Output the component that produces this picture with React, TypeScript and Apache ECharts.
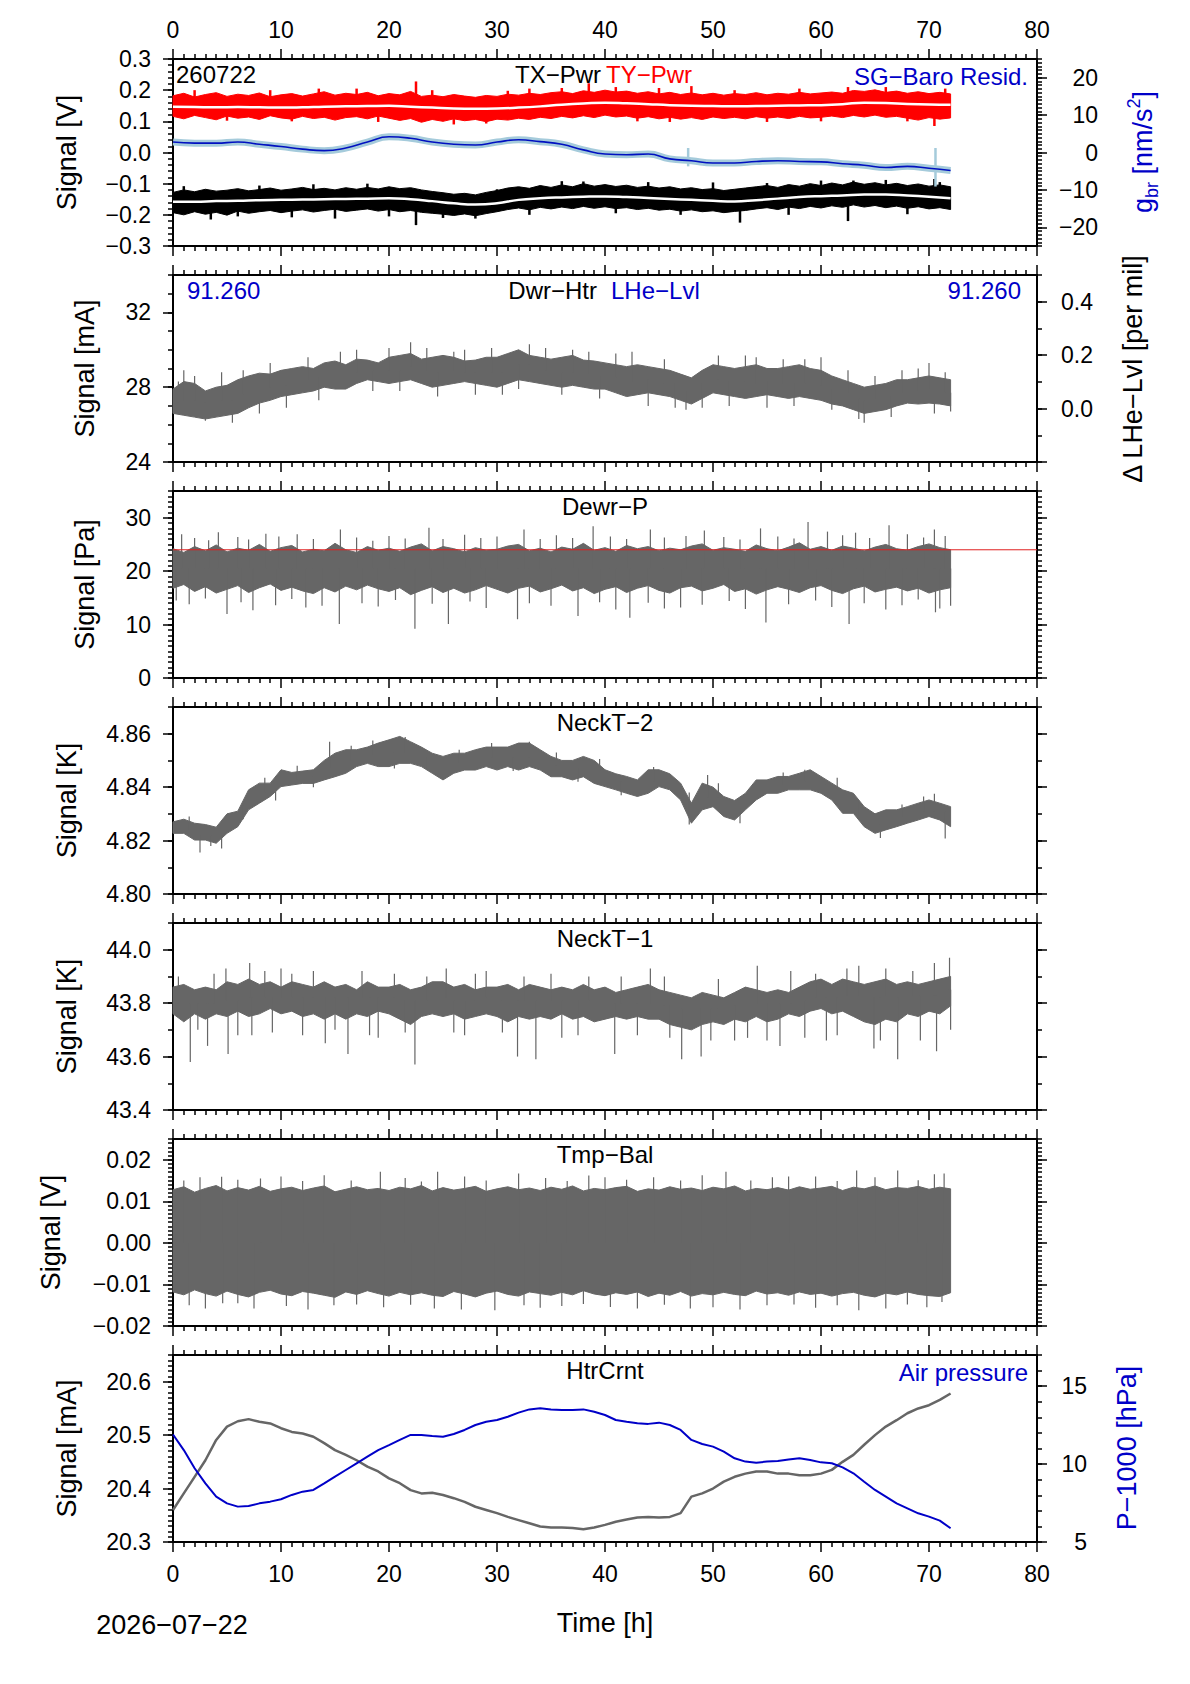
import React, { useEffect, useRef } from 'react';
import * as echarts from 'echarts';

const FONT = '"Liberation Sans", Arial, Helvetica, sans-serif';
const GRAY = '#666666';
const BLUE = '#0000c8';
const RED = '#ff0000';
const LIGHT_BLUE = '#a5cbdb';

// sample times [h]
const HOURS = Array.from({ length: 73 }, (_, i) => i);
const HOURS_2 = Array.from({ length: 37 }, (_, i) => i * 2);

// panel 1: TY-Pwr (red) envelope + smoothed, TX-Pwr (black) envelope + smoothed [V]
const tyHi = [0.182,0.190,0.178,0.186,0.192,0.180,0.187,0.183,0.191,0.179,0.185,0.189,0.181,0.188,0.195,0.184,0.190,0.186,0.193,0.182,0.189,0.185,0.196,0.180,0.184,0.179,0.186,0.181,0.177,0.183,0.180,0.187,0.184,0.190,0.186,0.192,0.195,0.189,0.198,0.193,0.200,0.194,0.197,0.190,0.195,0.188,0.193,0.186,0.191,0.185,0.190,0.184,0.189,0.186,0.192,0.185,0.190,0.187,0.193,0.188,0.191,0.194,0.190,0.199,0.196,0.201,0.193,0.197,0.190,0.195,0.189,0.193,0.188];
const tyLo = [0.116,0.108,0.119,0.112,0.105,0.117,0.110,0.114,0.106,0.118,0.111,0.107,0.116,0.109,0.113,0.104,0.112,0.115,0.108,0.117,0.110,0.103,0.109,0.097,0.106,0.100,0.108,0.102,0.106,0.099,0.107,0.104,0.110,0.106,0.113,0.109,0.116,0.111,0.118,0.112,0.120,0.114,0.117,0.110,0.115,0.108,0.113,0.107,0.112,0.106,0.114,0.109,0.113,0.108,0.115,0.110,0.114,0.109,0.116,0.111,0.113,0.117,0.112,0.119,0.114,0.120,0.113,0.116,0.110,0.104,0.112,0.107,0.111];
const tyMean = [0.147,0.146,0.145,0.146,0.145,0.144,0.145,0.147,0.148,0.149,0.150,0.147,0.144,0.141,0.140,0.141,0.144,0.148,0.153,0.157,0.160,0.158,0.155,0.152,0.150,0.149,0.148,0.149,0.150,0.151,0.152,0.155,0.160,0.159,0.156,0.154,0.153];
const tySpikes: [number, number, number][] = [[13.5,0.15,0.205],[22.5,0.15,0.228],[26,0.14,0.09],[33,0.145,0.205],[38.5,0.16,0.222],[46,0.15,0.098],[48,0.15,0.213],[62.5,0.155,0.21],[70.5,0.15,0.085],[2,0.15,0.2],[5,0.15,0.102],[9,0.145,0.2],[11,0.145,0.1],[17,0.148,0.205],[19,0.15,0.098],[24,0.144,0.2],[29,0.14,0.093],[31,0.142,0.198],[36,0.153,0.207],[41,0.16,0.21],[43,0.158,0.1],[45,0.155,0.207],[52,0.148,0.2],[55,0.15,0.098],[58,0.151,0.205],[60,0.152,0.1],[66,0.159,0.21],[68,0.156,0.1],[71.5,0.153,0.205]];

const txHi = [-0.128,-0.120,-0.126,-0.118,-0.124,-0.121,-0.116,-0.123,-0.119,-0.114,-0.121,-0.117,-0.112,-0.119,-0.115,-0.120,-0.113,-0.118,-0.112,-0.117,-0.110,-0.116,-0.113,-0.120,-0.125,-0.129,-0.134,-0.131,-0.136,-0.128,-0.122,-0.114,-0.110,-0.115,-0.106,-0.112,-0.104,-0.110,-0.100,-0.108,-0.103,-0.109,-0.105,-0.112,-0.108,-0.114,-0.110,-0.117,-0.113,-0.119,-0.116,-0.122,-0.118,-0.114,-0.110,-0.106,-0.112,-0.103,-0.108,-0.100,-0.106,-0.098,-0.104,-0.095,-0.102,-0.097,-0.104,-0.099,-0.106,-0.101,-0.108,-0.104,-0.110];
const txLo = [-0.193,-0.200,-0.190,-0.198,-0.192,-0.201,-0.188,-0.195,-0.190,-0.186,-0.193,-0.188,-0.184,-0.191,-0.186,-0.182,-0.189,-0.185,-0.181,-0.188,-0.183,-0.190,-0.186,-0.192,-0.195,-0.198,-0.202,-0.197,-0.203,-0.196,-0.190,-0.183,-0.178,-0.184,-0.176,-0.181,-0.175,-0.180,-0.173,-0.179,-0.174,-0.180,-0.177,-0.183,-0.179,-0.185,-0.182,-0.188,-0.184,-0.190,-0.187,-0.193,-0.189,-0.186,-0.181,-0.177,-0.183,-0.175,-0.180,-0.173,-0.178,-0.171,-0.176,-0.168,-0.175,-0.170,-0.177,-0.172,-0.179,-0.174,-0.181,-0.177,-0.183];
const txMean = [-0.158,-0.158,-0.156,-0.155,-0.153,-0.152,-0.151,-0.150,-0.149,-0.148,-0.147,-0.150,-0.156,-0.163,-0.167,-0.163,-0.152,-0.147,-0.144,-0.142,-0.141,-0.143,-0.146,-0.149,-0.152,-0.155,-0.157,-0.153,-0.148,-0.143,-0.140,-0.138,-0.135,-0.135,-0.138,-0.142,-0.147];
const txSpikes: [number, number, number][] = [[3.5,-0.158,-0.215],[15,-0.15,-0.212],[22.5,-0.15,-0.233],[28,-0.167,-0.212],[38,-0.142,-0.093],[50,-0.155,-0.096],[52.5,-0.157,-0.225],[62.5,-0.138,-0.22],[63,-0.136,-0.09],[70.5,-0.14,-0.085],[1,-0.158,-0.108],[6,-0.155,-0.205],[8,-0.153,-0.106],[11,-0.152,-0.208],[13,-0.151,-0.102],[18,-0.148,-0.1],[20,-0.147,-0.205],[25,-0.16,-0.21],[30,-0.163,-0.118],[33,-0.15,-0.2],[36,-0.144,-0.092],[41,-0.141,-0.195],[44,-0.146,-0.095],[47,-0.15,-0.2],[55,-0.15,-0.098],[57,-0.145,-0.2],[60,-0.14,-0.09],[66,-0.135,-0.088],[68,-0.138,-0.198],[71,-0.145,-0.095]];

// SG-Baro residual [nm/s^2]
const sgBaro = [2.8,2.5,2.5,2.8,2.2,1.6,0.9,0.5,1.2,2.8,4.2,3.8,2.8,2.2,2.0,2.8,3.4,2.9,2.2,0.7,-0.4,-0.6,-0.4,-1.7,-2.2,-2.8,-2.8,-2.4,-2.2,-2.4,-2.5,-3.0,-3.4,-4.0,-3.7,-4.2,-4.8];
const sgSpikes: [number, number, number][] = [[47.7,1.2,-3.7],[70.6,1.2,-9.1]];

// panel 2: Dwr-Htr [mA]
const dwrHi = [27.9,28.3,28.2,27.8,28.0,28.1,28.4,28.6,28.75,28.7,28.9,29.0,29.1,29.0,29.3,29.4,29.2,29.5,29.45,29.3,29.6,29.7,29.8,29.5,29.6,29.7,29.6,29.4,29.45,29.6,29.6,29.8,30.0,29.7,29.6,29.5,29.6,29.7,29.45,29.4,29.3,29.2,29.1,29.2,29.1,29.0,28.9,28.7,28.5,28.9,29.2,29.1,29.0,29.1,29.2,29.0,29.0,29.1,29.2,29.0,28.9,28.6,28.4,28.2,28.0,28.1,28.2,28.4,28.4,28.5,28.6,28.5,28.4];
const dwrLo = [26.6,26.5,26.4,26.3,26.4,26.5,26.6,26.9,27.15,27.3,27.5,27.6,27.7,27.8,28.0,27.9,27.9,28.2,28.4,28.3,28.2,28.3,28.4,28.2,28.0,28.1,28.2,28.3,28.2,28.1,28.0,28.2,28.4,28.3,28.2,28.1,28.0,28.1,28.0,27.9,27.9,27.7,27.5,27.6,27.7,27.6,27.5,27.3,27.1,27.4,27.7,27.6,27.5,27.4,27.5,27.6,27.5,27.4,27.5,27.4,27.3,27.1,27.0,26.8,26.6,26.7,26.8,27.0,27.15,27.1,27.15,27.1,27.0];
const dwrSpikes: [number, number, number][] = [[1,27.3,28.9],[3,27.2,26.2],[4.5,27.3,28.8],[8,27.9,26.6],[15.5,28.6,29.9],[22,29.1,30.4],[26,28.9,29.9],[28,28.8,27.6],[33,29.2,30.3],[37,28.8,30.0],[42.5,28.3,29.9],[44,28.4,27.0],[49,28.2,26.9],[53,28.3,29.7],[55,28.3,26.9],[60,28.1,29.6],[64,27.3,26.1],[70,27.9,29.3],[70.5,27.9,26.6],[0.5,27.2,28.3],[2,27.3,28.6],[5.5,27.3,26.1],[6.5,27.6,28.9],[9,28.0,29.3],[10.5,28.1,26.9],[12.5,28.4,29.6],[13.5,28.5,27.3],[17,28.8,30.0],[18.5,28.9,27.8],[20,28.9,30.1],[21,28.9,27.8],[23.5,28.9,30.1],[24.5,28.8,27.5],[27,28.8,30.0],[29.5,28.8,30.1],[30.5,28.8,27.6],[32,29.2,27.9],[34.5,28.9,30.1],[36,28.8,27.6],[38.5,28.7,29.9],[39.5,28.6,27.4],[41,28.5,29.8],[45.5,28.2,29.5],[46.5,28.2,26.9],[47.5,27.8,26.8],[50.5,28.4,29.7],[51.5,28.3,27.0],[54,28.2,29.6],[56.5,28.2,29.5],[57.5,28.2,27.0],[58.5,28.2,29.5],[61,27.9,26.8],[62.5,27.7,28.9],[63.5,27.4,26.3],[65,27.4,28.6],[66.5,27.5,26.4],[67.5,27.7,28.9],[69,27.8,29.0],[71.5,27.7,28.8],[72,27.7,26.7]];

// panel 3: Dewr-P [Pa]
const dewrHi = [24.2,23.5,24.6,23.8,24.9,23.6,24.3,23.9,25.0,23.7,24.4,24.8,23.6,24.1,23.8,25.2,24.0,23.5,24.6,23.9,24.3,23.7,24.5,25.1,23.8,24.6,24.2,23.6,24.4,23.9,24.1,24.7,25.0,23.8,24.3,23.6,24.5,24.1,25.2,23.9,24.4,23.7,24.8,24.2,24.6,23.8,24.3,24.0,24.7,25.1,23.9,24.4,24.1,23.7,24.9,24.2,23.8,24.5,25.3,24.1,24.6,23.9,24.7,24.3,23.8,24.5,25.0,24.2,23.9,24.6,25.1,24.4,24.0];
const dewrLo = [16.8,17.5,16.2,17.1,15.9,16.6,17.3,16.0,16.9,17.6,16.4,17.0,16.3,15.8,16.9,16.1,17.2,16.5,17.4,16.7,16.2,16.9,15.6,16.4,17.1,16.0,16.8,15.9,16.5,17.3,16.6,15.9,16.8,17.2,16.1,16.7,17.4,16.3,16.9,15.8,16.6,17.1,16.0,16.8,17.3,16.4,15.9,16.9,17.2,16.3,16.8,17.5,16.2,16.7,15.7,16.5,17.1,16.6,16.0,16.9,17.3,16.4,15.8,16.7,17.2,16.1,16.6,17.0,16.3,16.8,15.9,16.5,16.9];
const dewrSpikes: [number, number, number][] = [[0.8,20.5,26.9],[4.2,20.5,27.3],[8.6,20.5,27.0],[11.5,20.5,26.9],[15.5,20.5,27.8],[23.7,20.5,28.1],[32.5,20.5,27.8],[38.9,20.5,28.4],[44.2,20.5,27.8],[49.2,20.5,27.6],[54.4,20.5,28.0],[58.8,20.5,29.2],[60.6,20.5,27.4],[63.2,20.5,27.2],[66.3,20.5,28.6],[70.5,20.5,27.8],[5,20.5,12.0],[7.4,20.5,12.7],[13.8,20.5,13.5],[15.4,20.5,10.1],[22.4,20.5,9.2],[25.5,20.5,10.1],[31.9,20.5,11.0],[37.5,20.5,11.6],[42.3,20.5,11.3],[47,20.5,13.2],[54.9,20.5,10.4],[62.6,20.5,10.1],[66,20.5,12.8],[70.6,20.5,12.3],[72,20.5,13.5],
  [2,20.5,26.2],[3.3,20.5,25.8],[6,20.5,26.4],[7,20.5,25.9],[9.8,20.5,26.5],[13,20.5,26.0],[17,20.5,26.3],[18.5,20.5,25.7],[20,20.5,26.6],[21.5,20.5,26.1],[25,20.5,26.0],[27,20.5,26.8],[28.5,20.5,26.2],[30,20.5,26.5],[34,20.5,26.0],[35.5,20.5,26.7],[37,20.5,26.2],[40.5,20.5,26.5],[42,20.5,26.0],[45.5,20.5,26.3],[47.5,20.5,26.6],[51,20.5,26.4],[52.5,20.5,25.9],[56,20.5,26.5],[57.5,20.5,26.1],[62,20.5,26.7],[64.5,20.5,26.2],[68,20.5,26.9],[69.5,20.5,26.3],[71.5,20.5,26.6],
  [0.3,20.5,14.5],[1.5,20.5,13.8],[3,20.5,14.9],[6.3,20.5,14.2],[9.5,20.5,13.6],[11,20.5,14.8],[12.3,20.5,13.2],[17.5,20.5,14.0],[19,20.5,13.4],[20.6,20.5,14.6],[24,20.5,13.9],[27.5,20.5,14.3],[29,20.5,13.1],[33,20.5,14.0],[35,20.5,13.5],[39.5,20.5,14.2],[41,20.5,12.8],[44,20.5,14.1],[45.5,20.5,13.0],[49,20.5,13.7],[51.5,20.5,14.4],[53,20.5,12.9],[57,20.5,13.8],[59.5,20.5,14.5],[61,20.5,13.3],[64,20.5,14.0],[67.5,20.5,13.6],[69,20.5,14.7],[71,20.5,13.0]];
const dewrLimit = [24.0, 24.0];
const dewrLimitTimes = [0, 80];

// panel 4: NeckT-2 [K]
const neck2Hi = [4.827,4.828,4.8265,4.826,4.825,4.830,4.831,4.839,4.8415,4.8415,4.8465,4.8455,4.846,4.8465,4.850,4.8527,4.854,4.854,4.855,4.8565,4.8577,4.859,4.857,4.855,4.8527,4.8515,4.8527,4.8527,4.854,4.855,4.855,4.855,4.8565,4.8565,4.854,4.8515,4.850,4.850,4.8515,4.850,4.8465,4.845,4.844,4.8427,4.8465,4.8465,4.845,4.8415,4.834,4.8415,4.840,4.8365,4.835,4.8377,4.8427,4.8427,4.844,4.844,4.8452,4.8465,4.844,4.8415,4.839,4.8377,4.8327,4.830,4.8315,4.8315,4.8327,4.834,4.8352,4.834,4.8327];
const neck2Lo = [4.8227,4.8227,4.8202,4.8202,4.819,4.8227,4.8252,4.8315,4.834,4.8365,4.8402,4.8408,4.8414,4.8414,4.8427,4.8439,4.8452,4.8477,4.8489,4.8477,4.8477,4.8489,4.8489,4.8477,4.8452,4.8427,4.8452,4.8464,4.8464,4.8477,4.8464,4.8477,4.8464,4.8477,4.8464,4.8439,4.8439,4.8427,4.8439,4.8414,4.8402,4.839,4.8377,4.8365,4.8377,4.8402,4.839,4.8352,4.8265,4.8315,4.8327,4.829,4.8277,4.8315,4.8352,4.8377,4.8377,4.839,4.839,4.839,4.8377,4.8352,4.8302,4.8302,4.8252,4.8227,4.824,4.8252,4.8265,4.8277,4.829,4.8277,4.8252];
const neck2Spikes: [number, number, number][] = [[2.5,4.822,4.8155],[4.5,4.822,4.817],[14.5,4.847,4.857],[21.5,4.853,4.8588],[33,4.851,4.857],[47.8,4.838,4.826],[49.5,4.836,4.8445],[58.5,4.842,4.8465],[65.5,4.826,4.821],[70.5,4.831,4.8375],[71.5,4.831,4.8208],
  [1.5,4.824,4.829],[3.5,4.822,4.818],[6.5,4.828,4.833],[8.5,4.838,4.8435],[9.5,4.839,4.835],[11.5,4.843,4.848],[13,4.844,4.840],[16.5,4.85,4.8555],[18.5,4.852,4.8575],[20.5,4.853,4.847],[23.5,4.851,4.8465],[26.5,4.849,4.854],[29.5,4.851,4.8565],[31.5,4.851,4.846],[35.5,4.848,4.853],[37.5,4.847,4.842],[39.5,4.846,4.8505],[41.5,4.842,4.837],[44.5,4.842,4.8475],[50.5,4.836,4.8415],[52.5,4.832,4.8265],[56.5,4.841,4.8455],[60.5,4.841,4.8365],[61.5,4.839,4.8435],[63.5,4.835,4.8295],[67.5,4.829,4.8335],[69.5,4.831,4.8365]];

// panel 5: NeckT-1 [K]
const neck1Hi = [43.86,43.87,43.85,43.86,43.85,43.88,43.87,43.89,43.87,43.88,43.86,43.88,43.87,43.86,43.88,43.86,43.87,43.85,43.88,43.86,43.86,43.87,43.85,43.86,43.88,43.88,43.86,43.87,43.85,43.86,43.86,43.87,43.85,43.87,43.86,43.85,43.86,43.85,43.87,43.85,43.86,43.84,43.85,43.86,43.87,43.85,43.84,43.83,43.82,43.84,43.83,43.82,43.84,43.86,43.85,43.84,43.85,43.84,43.86,43.88,43.89,43.87,43.89,43.88,43.87,43.88,43.89,43.87,43.88,43.87,43.88,43.89,43.90];
const neck1Lo = [43.76,43.73,43.76,43.74,43.76,43.75,43.77,43.75,43.76,43.78,43.76,43.77,43.75,43.76,43.74,43.76,43.74,43.76,43.75,43.77,43.76,43.74,43.72,43.75,43.76,43.75,43.76,43.74,43.75,43.76,43.75,43.73,43.75,43.74,43.75,43.74,43.76,43.74,43.75,43.73,43.74,43.75,43.74,43.75,43.74,43.74,43.72,43.71,43.70,43.72,43.73,43.72,43.74,43.73,43.75,43.73,43.74,43.76,43.75,43.77,43.78,43.76,43.77,43.75,43.73,43.72,43.74,43.73,43.76,43.75,43.77,43.76,43.79];
const neck1Spikes: [number, number, number][] = [[1.6,43.8,43.58],[3.2,43.8,43.64],[5.1,43.81,43.61],[7.3,43.82,43.68],[12,43.82,43.68],[14.1,43.82,43.65],[16.2,43.82,43.61],[19,43.82,43.67],[22.4,43.81,43.57],[27,43.81,43.68],[31.9,43.81,43.60],[33.6,43.81,43.59],[36,43.81,43.67],[40.9,43.8,43.61],[47.1,43.78,43.59],[48.9,43.78,43.6],[52,43.79,43.66],[56.2,43.8,43.64],[60.5,43.82,43.66],[64.9,43.82,43.63],[67.1,43.82,43.59],[70.7,43.83,43.62],[4.9,43.81,43.93],[7.1,43.82,43.95],[10,43.82,43.93],[25.3,43.82,43.93],[29,43.82,43.92],[44.2,43.8,43.93],[54.1,43.8,43.94],[57.2,43.8,43.92],[62.4,43.83,43.93],[66,43.83,43.93],[70.5,43.83,43.95],[71.9,43.85,43.97],
  [0.5,43.8,43.9],[2.3,43.8,43.7],[3.8,43.8,43.91],[6,43.81,43.68],[8.5,43.82,43.92],[9.2,43.82,43.69],[11,43.82,43.91],[13,43.82,43.92],[15,43.82,43.7],[17.5,43.82,43.92],[18.2,43.82,43.68],[20.5,43.82,43.91],[21.5,43.81,43.69],[23.5,43.81,43.9],[26,43.81,43.69],[28,43.81,43.91],[30.5,43.81,43.69],[32.5,43.81,43.9],[35,43.81,43.91],[37.5,43.81,43.68],[38.5,43.81,43.9],[41.5,43.8,43.9],[43,43.8,43.68],[45.5,43.79,43.9],[46,43.79,43.67],[49.8,43.78,43.66],[50.5,43.78,43.89],[53.2,43.79,43.67],[55,43.8,43.66],[58.5,43.81,43.67],[59.5,43.82,43.91],[61.5,43.82,43.68],[63.5,43.83,43.94],[65.5,43.82,43.66],[68.5,43.83,43.92],[69.2,43.83,43.66],[72,43.85,43.7]];

// panel 6: Tmp-Bal [V]
const tmpHi = [0.0128,0.0135,0.0122,0.0131,0.0138,0.0125,0.0133,0.0127,0.0136,0.0124,0.0130,0.0134,0.0126,0.0132,0.0137,0.0123,0.0129,0.0135,0.0128,0.0131,0.0126,0.0134,0.0130,0.0138,0.0125,0.0133,0.0127,0.0131,0.0136,0.0124,0.0130,0.0135,0.0128,0.0132,0.0126,0.0134,0.0129,0.0137,0.0125,0.0131,0.0128,0.0133,0.0136,0.0124,0.0130,0.0127,0.0135,0.0129,0.0132,0.0126,0.0134,0.0130,0.0137,0.0125,0.0131,0.0128,0.0133,0.0127,0.0135,0.0129,0.0132,0.0136,0.0126,0.0134,0.0130,0.0137,0.0128,0.0133,0.0131,0.0136,0.0129,0.0134,0.0130];
const tmpLo = [-0.0118,-0.0125,-0.0113,-0.0122,-0.0128,-0.0116,-0.0124,-0.0130,-0.0119,-0.0114,-0.0123,-0.0127,-0.0117,-0.0121,-0.0126,-0.0131,-0.0118,-0.0124,-0.0115,-0.0122,-0.0128,-0.0119,-0.0125,-0.0120,-0.0126,-0.0129,-0.0117,-0.0123,-0.0130,-0.0121,-0.0116,-0.0124,-0.0128,-0.0118,-0.0122,-0.0126,-0.0119,-0.0125,-0.0115,-0.0123,-0.0127,-0.0120,-0.0124,-0.0118,-0.0129,-0.0121,-0.0126,-0.0117,-0.0128,-0.0122,-0.0125,-0.0119,-0.0124,-0.0127,-0.0116,-0.0123,-0.0120,-0.0126,-0.0118,-0.0124,-0.0121,-0.0128,-0.0122,-0.0119,-0.0126,-0.0130,-0.0121,-0.0125,-0.0118,-0.0124,-0.0127,-0.0129,-0.0120];
const tmpSpikes: [number, number, number][] = [[4.5,0,0.0159],[8.1,0,0.0155],[19.2,0,0.0171],[24.5,0,0.0171],[32,0,0.0167],[40,0,0.0158],[51.2,0,0.0171],[57,0,0.016],[63.3,0,0.0174],[67.1,0,0.0174],[71.4,0,0.0167],[4.6,0,-0.0145],[7.5,0,-0.0158],[14.9,0,-0.015],[26.7,0,-0.016],[29.8,0,-0.0162],[36,0,-0.0152],[47.9,0,-0.0158],[55,0,-0.015],[63.5,0,-0.0162],[71.2,0,-0.0142],
  [1,0,0.0150],[2.5,0,0.0158],[6,0,0.0152],[10,0,0.0160],[12,0,0.0149],[14,0,0.0163],[16.5,0,0.0150],[21.5,0,0.0156],[23,0,0.0148],[27,0,0.0160],[29,0,0.0150],[34.5,0,0.0156],[36.5,0,0.0149],[38.5,0,0.0162],[42,0,0.0152],[44.5,0,0.0158],[47,0,0.0150],[49,0,0.0163],[53.5,0,0.0150],[55.5,0,0.0158],[59.5,0,0.0160],[61.5,0,0.0149],[65,0,0.0158],[69,0,0.0151],[70.5,0,0.0165],
  [1.5,0,-0.0150],[3,0,-0.0158],[6,0,-0.0145],[10.5,0,-0.0152],[12.5,0,-0.0160],[17,0,-0.0148],[19.5,0,-0.0155],[22,0,-0.0149],[24.2,0,-0.0158],[32.5,0,-0.0150],[34,0,-0.0156],[38,0,-0.0147],[40.5,0,-0.0154],[43,0,-0.0158],[45.5,0,-0.0149],[50,0,-0.0155],[52.5,0,-0.0160],[57.5,0,-0.0148],[59.5,0,-0.0156],[61.5,0,-0.0150],[66,0,-0.0158],[68,0,-0.0148],[69.8,0,-0.0155]];

// panel 7: HtrCrnt [mA] and air pressure P-1000 [hPa]
const htrCrnt = [20.36,20.391,20.422,20.453,20.491,20.516,20.526,20.53,20.525,20.522,20.513,20.506,20.503,20.497,20.485,20.472,20.463,20.453,20.441,20.432,20.419,20.41,20.397,20.391,20.392,20.388,20.382,20.375,20.366,20.36,20.354,20.347,20.341,20.335,20.329,20.327,20.327,20.326,20.324,20.327,20.332,20.338,20.342,20.346,20.347,20.346,20.347,20.354,20.385,20.391,20.4,20.413,20.422,20.428,20.432,20.432,20.428,20.428,20.425,20.425,20.428,20.435,20.45,20.463,20.482,20.5,20.516,20.528,20.541,20.55,20.556,20.566,20.578];
const airPressure = [11.9,10.9,9.73,8.76,7.91,7.48,7.27,7.31,7.48,7.59,7.74,8.02,8.23,8.34,8.76,9.19,9.62,10.05,10.48,10.9,11.22,11.55,11.87,11.87,11.8,11.76,11.93,12.19,12.51,12.72,12.83,13.04,13.3,13.51,13.58,13.51,13.47,13.47,13.51,13.36,13.15,12.83,12.72,12.62,12.58,12.66,12.51,12.19,11.55,11.29,11.12,10.8,10.37,10.16,10.09,10.16,10.2,10.3,10.37,10.26,10.11,10.05,9.79,9.41,8.87,8.34,7.91,7.48,7.16,6.84,6.63,6.37,5.88];

// left axes per panel (tick labels, minor tick step, axis title)
const LEFT_AXES = [
  { min: -0.3, max: 0.3, step: 0.1, ticks: [-0.3, -0.2, -0.1, 0, 0.1, 0.2, 0.3], minor: 0.02, digits: 1, name: 'Signal [V]', gap: 93 },
  { min: 24, max: 34, step: 4, ticks: [24, 28, 32], minor: 1, digits: 0, name: 'Signal [mA]', gap: 75 },
  { min: 0, max: 35, step: 10, ticks: [0, 10, 20, 30], minor: 1, digits: 0, name: 'Signal [Pa]', gap: 75 },
  { min: 4.8, max: 4.87, step: 0.02, ticks: [4.8, 4.82, 4.84, 4.86], minor: 0.01, digits: 2, name: 'Signal [K]', gap: 93 },
  { min: 43.4, max: 44.1, step: 0.2, ticks: [43.4, 43.6, 43.8, 44.0], minor: 0.1, digits: 1, name: 'Signal [K]', gap: 93 },
  { min: -0.02, max: 0.025, step: 0.01, ticks: [-0.02, -0.01, 0, 0.01, 0.02], minor: 0.001, digits: 2, name: 'Signal [V]', gap: 109 },
  { min: 20.3, max: 20.65, step: 0.1, ticks: [20.3, 20.4, 20.5, 20.6], minor: 0.01, digits: 1, name: 'Signal [mA]', gap: 93 },
];

// right axes with their own scale (others mirror the left one)
const RIGHT_AXES: Record<number, { min: number; max: number; ticks: number[]; labels: number[]; minor: number; digits: number; margin: number }> = {
  0: { min: -25, max: 25, ticks: [-20, -10, 0, 10, 20], labels: [-20, -10, 0, 10, 20], minor: 1, digits: 0, margin: 61 },
  1: { min: -0.2, max: 0.5, ticks: [-0.2, 0, 0.2, 0.4], labels: [0, 0.2, 0.4], minor: 0.1, digits: 1, margin: 56 },
  6: { min: 5, max: 17, ticks: [5, 10, 15], labels: [5, 10, 15], minor: 1, digits: 0, margin: 50 },
};

const PANEL_TOP = 59;
const PANEL_STEP = 216;
const PANEL_H = 187;
const PLOT_LEFT = 173;
const PLOT_W = 864;
const MID_X = PLOT_LEFT + PLOT_W / 2;

const fmt = (digits: number) => (v: number) => {
  const n = Math.abs(v) < 1e-9 ? 0 : v;
  return n.toFixed(digits).replace('-', '\u2212');
};

const labelStyle = { color: '#000', fontSize: 23, fontFamily: FONT };
const lineBlack = { color: '#000', width: 2 };
const tickBlack = { color: '#000', width: 1.5 };

const band = (g: number, yIdx: number, hi: number[], lo: number[], color: string, z = 2) => ({
  type: 'custom',
  xAxisIndex: 2 * g,
  yAxisIndex: yIdx,
  silent: true,
  z,
  data: [[0, hi[0]]],
  renderItem: (_p: any, api: any) => {
    const pts: number[][] = [];
    hi.forEach((v, i) => pts.push(api.coord([HOURS[i], v])));
    for (let i = lo.length - 1; i >= 0; i--) pts.push(api.coord([HOURS[i], lo[i]]));
    return {
      type: 'polygon',
      shape: { points: pts },
      style: { fill: color, stroke: color, lineWidth: 1, lineJoin: 'bevel' },
    };
  },
});

const spikes = (g: number, yIdx: number, data: [number, number, number][], color: string, width = 1.2, z = 3) => ({
  type: 'custom',
  xAxisIndex: 2 * g,
  yAxisIndex: yIdx,
  silent: true,
  z,
  data,
  encode: { x: 0, y: [1, 2] },
  renderItem: (_p: any, api: any) => {
    const a = api.coord([api.value(0), api.value(1)]);
    const b = api.coord([api.value(0), api.value(2)]);
    return {
      type: 'line',
      shape: { x1: a[0], y1: a[1], x2: b[0], y2: b[1] },
      style: { stroke: color, lineWidth: width },
    };
  },
});

const line = (g: number, yIdx: number, times: number[], values: number[], color: string, width: number, smooth = false, z = 4) => ({
  type: 'line',
  xAxisIndex: 2 * g,
  yAxisIndex: yIdx,
  data: times.map((t, i) => [t, values[i]]),
  showSymbol: false,
  silent: true,
  smooth,
  z,
  lineStyle: { color, width },
});

const text = (x: number, y: number, t: string, color = '#000', align = 'center', size = 24) => ({
  type: 'text',
  x,
  y,
  silent: true,
  style: {
    text: t,
    fill: color,
    fontSize: size,
    fontFamily: FONT,
    align,
    verticalAlign: 'middle',
    textAlign: align,
    textVerticalAlign: 'middle',
  },
});

const vText = (x: number, y: number, t: string, color = '#000', rich?: any) => ({
  type: 'text',
  x,
  y,
  rotation: Math.PI / 2,
  silent: true,
  style: {
    text: t,
    fill: color,
    fontSize: 27,
    fontFamily: FONT,
    align: 'center',
    verticalAlign: 'middle',
    textAlign: 'center',
    textVerticalAlign: 'middle',
    rich,
  },
});

const App: React.FC = () => {
  const chartRef = useRef<HTMLDivElement>(null);

  useEffect(() => {
    if (!chartRef.current) return;
    document.body.style.margin = '0';
    const chart = echarts.init(chartRef.current, undefined, { renderer: 'svg' });

    const grids: any[] = [];
    const xAxes: any[] = [];
    const yAxes: any[] = [];

    LEFT_AXES.forEach((ax, g) => {
      grids.push({ left: PLOT_LEFT, top: PANEL_TOP + g * PANEL_STEP, width: PLOT_W, height: PANEL_H, containLabel: false, outerBoundsMode: 'none' });
      ['bottom', 'top'].forEach((pos) => {
        const show = (pos === 'top' && g === 0) || (pos === 'bottom' && g === LEFT_AXES.length - 1);
        xAxes.push({
          type: 'value', gridIndex: g, position: pos, min: 0, max: 80, interval: 10,
          axisLine: { show: true, onZero: false, lineStyle: lineBlack },
          axisTick: { show: true, inside: false, length: 10, lineStyle: tickBlack },
          minorTick: { show: true, splitNumber: 10, length: 5, lineStyle: tickBlack },
          axisLabel: { show, margin: pos === 'top' ? 18 : 20, ...labelStyle },
          splitLine: { show: false },
          minorSplitLine: { show: false },
        });
      });

      const right = RIGHT_AXES[g];
      const mkMajor = (pos: string, cfg: any, labels: number[] | null, margin: number, name?: string, gap?: number) => ({
        type: 'value', gridIndex: g, position: pos, min: cfg.min, max: cfg.max,
        ...(cfg.step ? { interval: cfg.step } : { splitNumber: 5 }),
        axisLine: { show: true, onZero: false, lineStyle: lineBlack },
        axisTick: { show: true, inside: false, length: 10, lineStyle: tickBlack, customValues: cfg.ticks },
        axisLabel: labels
          ? { show: true, customValues: labels, formatter: fmt(cfg.digits), margin, align: pos === 'right' ? 'right' : undefined, ...labelStyle }
          : { show: false },
        minorTick: { show: false },
        splitLine: { show: false },
        name: name || '',
        nameLocation: 'middle',
        nameRotate: 90,
        nameGap: gap || 0,
        nameTextStyle: { color: '#000', fontSize: 27, fontFamily: FONT },
      });
      const mkMinor = (pos: string, cfg: any) => ({
        type: 'value', gridIndex: g, position: pos, min: cfg.min, max: cfg.max, interval: cfg.minor,
        axisLine: { show: false, onZero: false },
        axisTick: { show: true, inside: false, length: 5, lineStyle: tickBlack },
        axisLabel: { show: false },
        splitLine: { show: false },
      });

      yAxes.push(mkMajor('left', ax, ax.ticks, 22, ax.name, ax.gap));
      yAxes.push(mkMinor('left', ax));
      if (right) {
        yAxes.push(mkMajor('right', right, right.labels, right.margin));
        yAxes.push(mkMinor('right', right));
      } else {
        yAxes.push(mkMajor('right', ax, null, 0));
        yAxes.push(mkMinor('right', ax));
      }
    });

    const L = (g: number) => 4 * g;
    const R = (g: number) => 4 * g + 2;

    const series: any[] = [
      // panel 1
      band(0, L(0), tyHi, tyLo, RED),
      spikes(0, L(0), tySpikes, RED, 2.5),
      line(0, L(0), HOURS_2, tyMean, '#ffffff', 2.5, true),
      band(0, L(0), txHi, txLo, '#000000'),
      spikes(0, L(0), txSpikes, '#000000', 2.5),
      line(0, L(0), HOURS_2, txMean, '#ffffff', 2.5, true),
      line(0, R(0), HOURS_2, sgBaro, LIGHT_BLUE, 7, true, 3),
      spikes(0, R(0), sgSpikes, LIGHT_BLUE, 2.5, 3),
      line(0, R(0), HOURS_2, sgBaro, '#0010c0', 1.6, true, 5),
      // panel 2
      band(1, L(1), dwrHi, dwrLo, GRAY),
      spikes(1, L(1), dwrSpikes, GRAY),
      // panel 3
      band(2, L(2), dewrHi, dewrLo, GRAY),
      spikes(2, L(2), dewrSpikes, GRAY),
      line(2, L(2), dewrLimitTimes, dewrLimit, '#e02020', 1, false, 5),
      // panel 4
      band(3, L(3), neck2Hi, neck2Lo, GRAY),
      spikes(3, L(3), neck2Spikes, GRAY),
      // panel 5
      band(4, L(4), neck1Hi, neck1Lo, GRAY),
      spikes(4, L(4), neck1Spikes, GRAY),
      // panel 6
      band(5, L(5), tmpHi, tmpLo, GRAY),
      spikes(5, L(5), tmpSpikes, GRAY),
      // panel 7
      line(6, L(6), HOURS, htrCrnt, GRAY, 2.5),
      line(6, R(6), HOURS, airPressure, BLUE, 2),
    ];

    const top = (g: number) => PANEL_TOP + g * PANEL_STEP;
    const graphics: any[] = [
      text(176, top(0) + 15, '260722', '#000', 'left'),
      text(MID_X - 4, top(0) + 15, 'TX\u2212Pwr', '#000', 'right'),
      text(MID_X + 1, top(0) + 15, 'TY\u2212Pwr', RED, 'left'),
      text(1028, top(0) + 17, 'SG\u2212Baro Resid.', BLUE, 'right'),
      text(187, top(1) + 15, '91.260', BLUE, 'left'),
      text(MID_X - 8, top(1) + 15, 'Dwr\u2212Htr', '#000', 'right'),
      text(MID_X + 6, top(1) + 15, 'LHe\u2212Lvl', BLUE, 'left'),
      text(1021, top(1) + 15, '91.260', BLUE, 'right'),
      text(MID_X, top(2) + 15, 'Dewr\u2212P'),
      text(MID_X, top(3) + 15, 'NeckT\u22122'),
      text(MID_X, top(4) + 15, 'NeckT\u22121'),
      text(MID_X, top(5) + 15, 'Tmp\u2212Bal'),
      text(MID_X, top(6) + 15, 'HtrCrnt'),
      text(1028, top(6) + 17, 'Air pressure', BLUE, 'right'),
      text(MID_X, 1623, 'Time [h]', '#000', 'center', 27),
      text(172, 1625, '2026\u221207\u221222', '#000', 'center', 27),
      vText(1143, top(0) + 93, '{a|g}{b|br}{a| [nm/s}{c|2}{a|]}', BLUE, {
        a: { fontSize: 27, fontFamily: FONT, fill: BLUE, lineHeight: 36, verticalAlign: 'middle' },
        b: { fontSize: 18, fontFamily: FONT, fill: BLUE, lineHeight: 36, verticalAlign: 'bottom' },
        c: { fontSize: 18, fontFamily: FONT, fill: BLUE, lineHeight: 36, verticalAlign: 'top' },
      }),
      vText(1133, top(1) + 94, '\u0394 LHe\u2212Lvl [per mil]'),
      vText(1127, top(6) + 93, 'P\u22121000 [hPa]', BLUE),
    ];

    chart.setOption({
      animation: false,
      backgroundColor: '#ffffff',
      grid: grids,
      xAxis: xAxes,
      yAxis: yAxes,
      series,
      graphic: graphics,
    });

    const handleResize = () => chart.resize();
    window.addEventListener('resize', handleResize);
    return () => {
      window.removeEventListener('resize', handleResize);
      chart.dispose();
    };
  }, []);

  return <div ref={chartRef} style={{ width: '1190px', height: '1684px' }} />;
};

export default App;
